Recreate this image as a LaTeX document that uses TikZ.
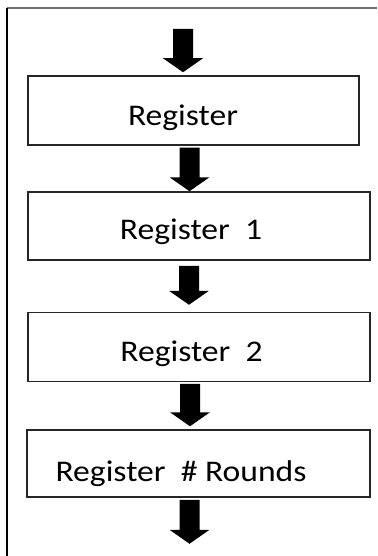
\documentclass[tikz,border=0pt]{standalone}
\usepackage{fontspec}
\setmainfont{Carlito}
\usepackage{graphicx}
\usetikzlibrary{calc}

\tikzset{
  regbox/.style={draw=black!85, line width=1.5pt, inner sep=0pt},
  regtext/.style={anchor=base, inner sep=0pt, text=black,
    font=\fontsize{30}{36}\selectfont},
  blockarrow/.style={fill=black},
  frametop/.style={draw=black!55, line width=2pt},
  frameleft/.style={draw=black, line width=1.5pt}
}

% slightly widened lettering
\newcommand{\widetext}[1]{\scalebox{1.12}[1]{#1}}

% thick downward block arrow from #1 to its tip #2
\newcommand{\blockarr}[2]{%
  \fill[blockarrow] ($(#1)+(-10,0)$) -- ($(#2)+(-10,-14)$) -- ($(#2)+(-20,-14)$)
    -- (#2) -- ($(#2)+(20,-14)$) -- ($(#2)+(10,-14)$) -- ($(#1)+(10,0)$) -- cycle;}

\begin{document}
\begin{tikzpicture}[x=1pt,y=-1pt]
  \fill[white] (0,0) rectangle (377,556);
  \useasboundingbox (0,0) rectangle (377,556);

  % frame edges
  \draw[frametop] (6.5,8.5) -- (377,8.5);
  \draw[frameleft] (7,8) -- (7,556);

  % register boxes
  \node[regbox, minimum width=331pt, minimum height=69pt] (b1) at (193.5,110.5) {};
  \node[regbox, minimum width=342pt, minimum height=68pt] (b2) at (199,226) {};
  \node[regbox, minimum width=342pt, minimum height=69pt] (b3) at (199,347) {};
  \node[regbox, minimum width=343pt, minimum height=67pt] (b4) at (198.5,463.5) {};

  % labels
  \node[regtext] (t1) at ($(b1.center)+(-10.5,15.5)$) {\widetext{Register}};
  \node[regtext] (t2) at ($(b2.center)+(-8,13)$) {\widetext{Register\ \ 1}};
  \node[regtext] (t3) at ($(b3.center)+(-7.5,14)$) {\widetext{Register\ \ 2}};
  \node[regtext] (t4) at ($(b4.center)+(-17.5,17.5)$) {\widetext{Register\ \ \# Rounds}};

  % arrow end points
  \coordinate (a1s) at (183,29);
  \coordinate (a1e) at ($(b1.north)+(-10.5,-3)$);
  \coordinate (a2s) at ($(b1.south)+(-4,2)$);
  \coordinate (a2e) at ($(b2.north)+(-9.5,0)$);
  \coordinate (a3s) at ($(b2.south)+(-10,5)$);
  \coordinate (a3e) at ($(b3.north)+(-10,-7)$);
  \coordinate (a4s) at ($(b3.south)+(-9,1.5)$);
  \coordinate (a4e) at ($(b4.north)+(-8.5,-3)$);
  \coordinate (a5s) at ($(b4.south)+(-9,2)$);
  \coordinate (out) at ($(a5s)+(0,44)$);

  \blockarr{a1s}{a1e}
  \blockarr{a2s}{a2e}
  \blockarr{a3s}{a3e}
  \blockarr{a4s}{a4e}
  \blockarr{a5s}{out}
\end{tikzpicture}
\end{document}
